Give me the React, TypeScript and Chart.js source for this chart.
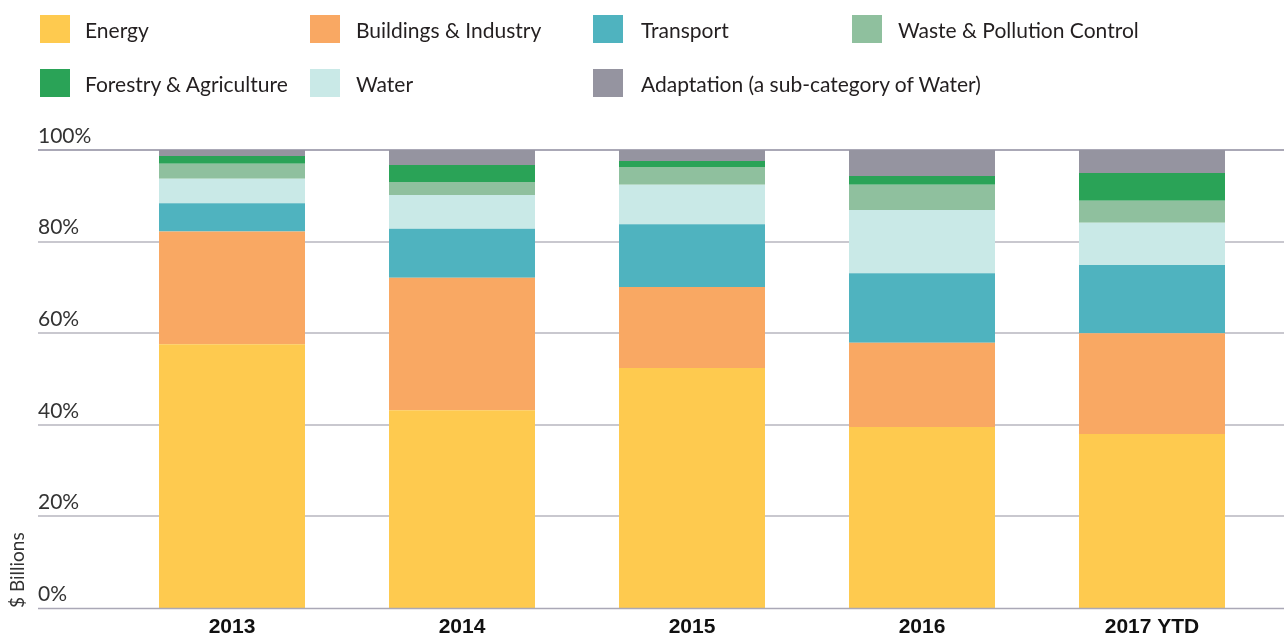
import React, { useEffect, useRef } from "react";
import { Chart, registerables } from "chart.js";

Chart.register(...registerables);

// ---- data ----
const categories = ["2013", "2014", "2015", "2016", "2017 YTD"];
const energy = [57.6, 43.2, 52.4, 39.5, 38.0];
const buildings = [24.6, 28.9, 17.7, 18.4, 22.0];
const transport = [6.2, 10.7, 13.7, 15.2, 14.9];
const water = [5.3, 7.4, 8.6, 13.8, 9.2];
const waste = [3.3, 2.8, 3.9, 5.5, 4.8];
const forestry = [1.7, 3.7, 1.3, 1.9, 6.1];
const adaptation = [1.3, 3.3, 2.4, 5.7, 5.0];
const yTicks = [0, 20, 40, 60, 80, 100];
const yTitle = "$ Billions";

// stacking order, bottom to top
const series = [
  { label: "Energy", data: energy, color: "#FECA4F" },
  { label: "Buildings & Industry", data: buildings, color: "#F9A863" },
  { label: "Transport", data: transport, color: "#4FB3BF" },
  { label: "Water", data: water, color: "#C9E9E7" },
  { label: "Waste & Pollution Control", data: waste, color: "#8FC09E" },
  { label: "Forestry & Agriculture", data: forestry, color: "#2AA357" },
  { label: "Adaptation (a sub-category of Water)", data: adaptation, color: "#9594A0" },
];

const legendOrder = [
  "Energy",
  "Buildings & Industry",
  "Transport",
  "Waste & Pollution Control",
  "Forestry & Agriculture",
  "Water",
  "Adaptation (a sub-category of Water)",
];

// legend layout
const legendBoxX = [40, 310, 593, 852];
const legendTextX = [85, 356, 641, 898];
const legendRowY = [15, 69];

const W = 1284;
const H = 637;

const gridPlugin = {
  id: "fullWidthGrid",
  beforeDatasetsDraw(chart: any) {
    const y = chart.scales.y;
    const ctx = chart.ctx;
    ctx.save();
    yTicks.forEach((v) => {
      if (v === 0) return;
      const py = Math.round(y.getPixelForValue(v));
      ctx.strokeStyle = v === 100 ? "#aaa8b6" : "#c9c8cf";
      ctx.lineWidth = 2;
      ctx.beginPath();
      ctx.moveTo(y.left, py);
      ctx.lineTo(chart.width, py);
      ctx.stroke();
    });
    ctx.restore();
  },
  afterDatasetsDraw(chart: any) {
    const y = chart.scales.y;
    const ctx = chart.ctx;
    const py = Math.round(y.getPixelForValue(0)) + 0.5;
    ctx.save();
    ctx.strokeStyle = "#aaa8b6";
    ctx.lineWidth = 1.5;
    ctx.beginPath();
    ctx.moveTo(y.left, py);
    ctx.lineTo(chart.width, py);
    ctx.stroke();
    ctx.restore();
  },
};

export default function App() {
  const canvasRef = useRef<HTMLCanvasElement | null>(null);

  useEffect(() => {
    const canvas = canvasRef.current;
    if (!canvas) return;
    const chart = new Chart(canvas, {
      type: "bar",
      data: {
        labels: categories,
        datasets: series.map((s) => ({
          label: s.label,
          data: s.data,
          backgroundColor: s.color,
          borderWidth: 0,
          barPercentage: 146 / 230,
          categoryPercentage: 1,
        })),
      },
      options: {
        responsive: false,
        animation: false,
        devicePixelRatio: 1,
        layout: { padding: { top: 150, left: 38, right: 17, bottom: 0 } },
        plugins: {
          legend: { display: false },
          tooltip: { enabled: false },
        },
        scales: {
          x: {
            stacked: true,
            grid: { display: false, drawTicks: false },
            border: { display: false },
            ticks: {
              padding: 7,
              color: "#111111",
              font: { family: "'Liberation Sans', Arial, sans-serif", size: 21, weight: "bold" },
            },
            afterFit: (s: any) => {
              s.height = 29;
            },
          },
          y: {
            stacked: true,
            min: 0,
            max: 100,
            grid: { display: false, drawTicks: false },
            border: { display: false },
            ticks: {
              stepSize: 20,
              padding: 0,
              crossAlign: "far",
              labelOffset: -14,
              color: "#333333",
              font: { family: "Lato, 'Open Sans', sans-serif", size: 21 },
              callback: (v: any) => v + "%",
            },
            title: {
              display: true,
              text: yTitle,
              align: "start",
              color: "#333333",
              font: { family: "Lato, 'Open Sans', sans-serif", size: 19 },
              padding: { top: -32, bottom: 0 },
            },
            afterFit: (s: any) => {
              s.width = 79;
            },
          },
        },
      },
      plugins: [gridPlugin],
    } as any);
    return () => chart.destroy();
  }, []);

  return (
    <div
      style={{
        position: "absolute",
        left: 0,
        top: 0,
        width: W,
        height: H,
        background: "#ffffff",
        overflow: "hidden",
      }}
    >
      <canvas
        ref={canvasRef}
        width={W}
        height={H}
        style={{ position: "absolute", left: 0, top: 0, width: W, height: H, display: "block" }}
      />
      {legendOrder.map((name, i) => {
        const s = series.find((d) => d.label === name)!;
        const col = i % 4;
        const row = Math.floor(i / 4);
        return (
          <div key={name}>
            <div
              style={{
                position: "absolute",
                left: legendBoxX[col],
                top: legendRowY[row],
                width: 30,
                height: 28,
                background: s.color,
              }}
            />
            <div
              style={{
                position: "absolute",
                left: legendTextX[col],
                top: legendRowY[row],
                height: 28,
                display: "flex",
                alignItems: "center",
                whiteSpace: "nowrap",
                fontFamily: "Lato, 'Open Sans', sans-serif",
                fontSize: 21,
                color: "#231f20",
              }}
            >
              {name}
            </div>
          </div>
        );
      })}
    </div>
  );
}
